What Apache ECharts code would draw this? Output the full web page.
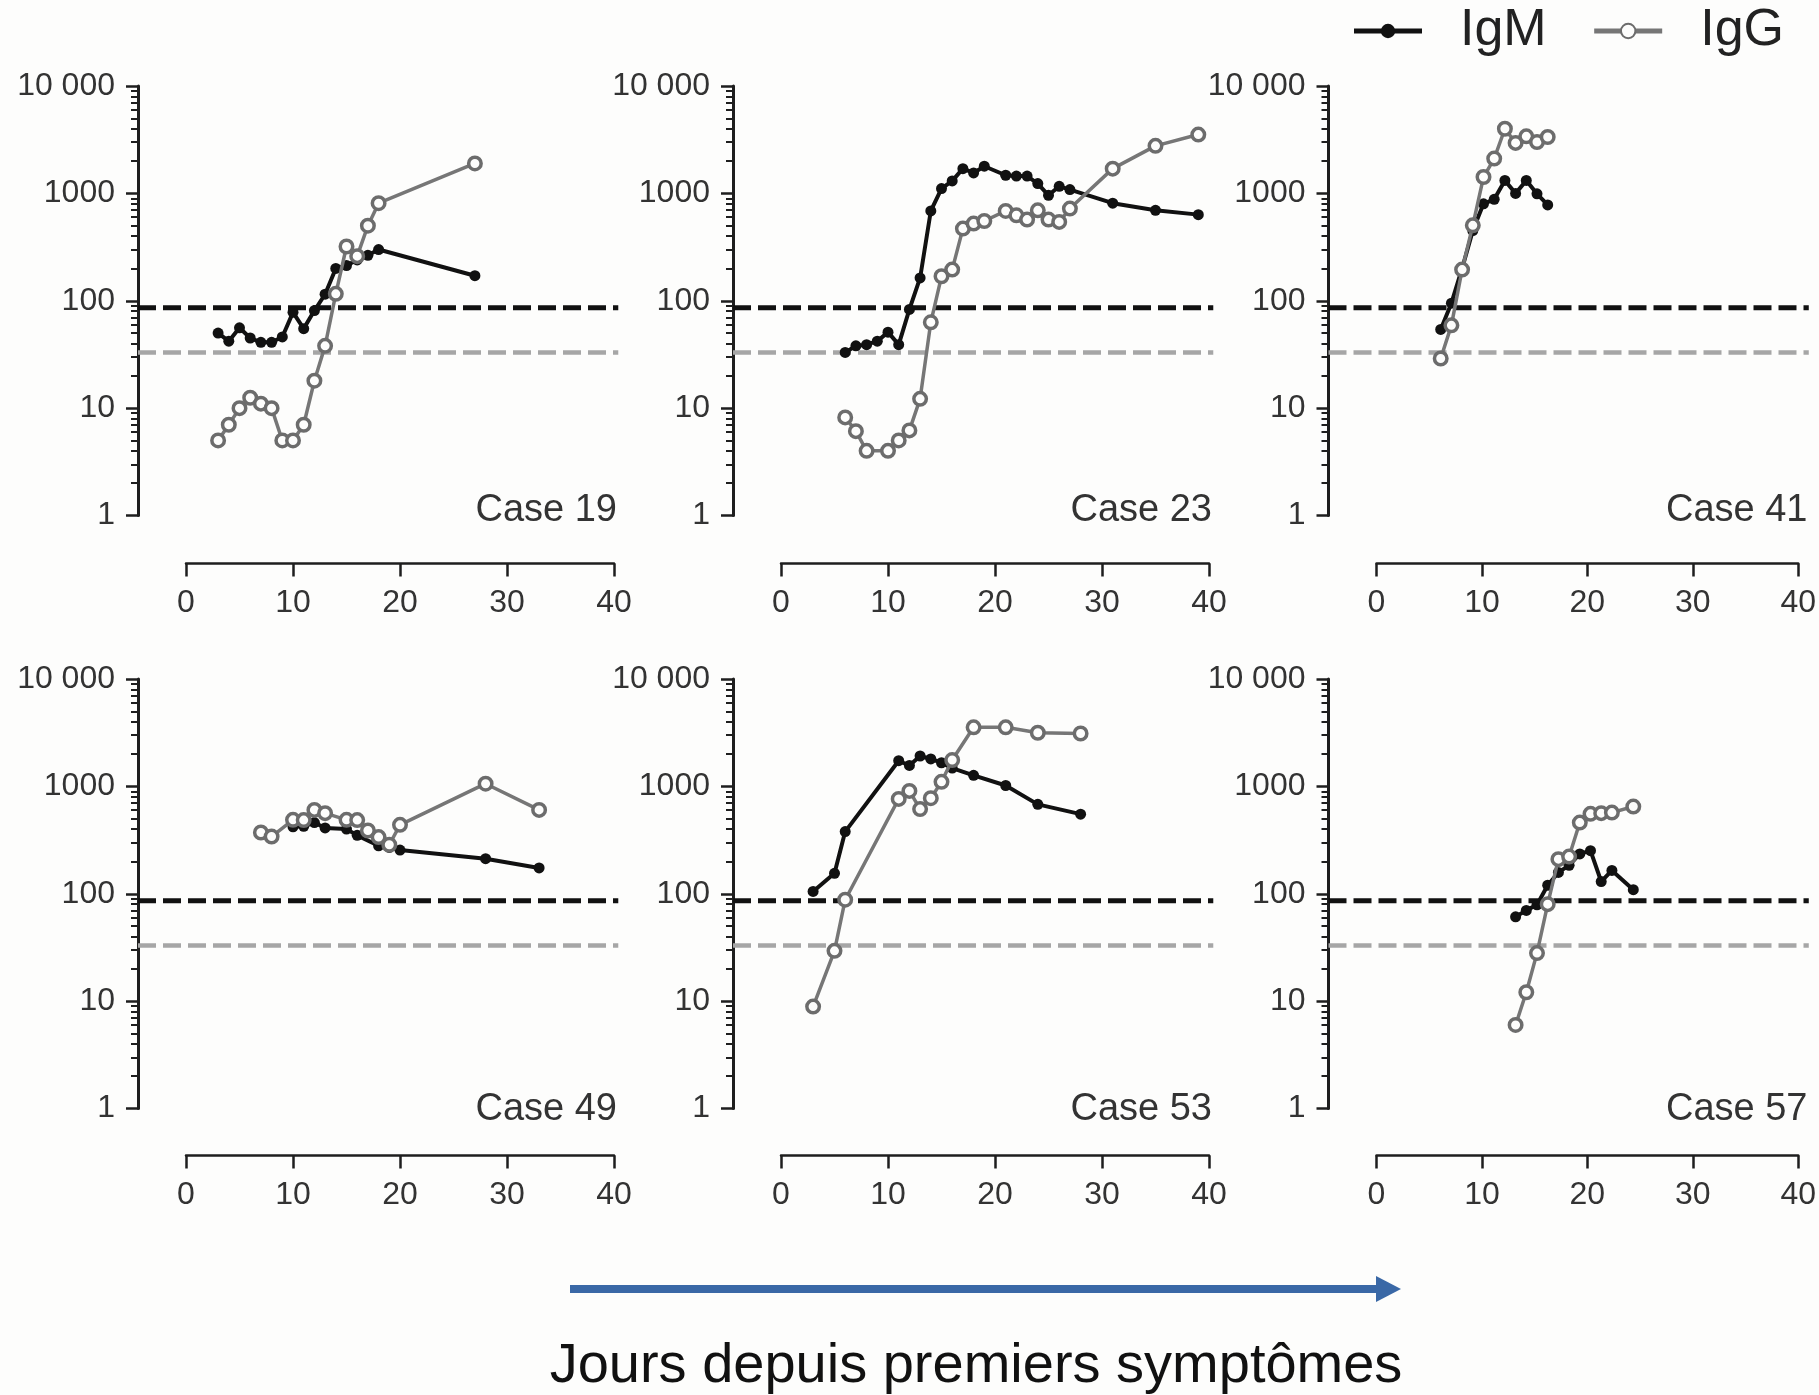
<!DOCTYPE html>
<html><head><meta charset="utf-8">
<script src="https://cdn.jsdelivr.net/npm/echarts@6/dist/echarts.min.js"></script>
<style>html,body{margin:0;padding:0;background:#fdfdfc}#c{width:1819px;height:1395px}</style>
</head><body><div id="c"></div>
<script>
// ---------------- DATA ----------------
const caseNames = ['Case 19', 'Case 23', 'Case 41', 'Case 49', 'Case 53', 'Case 57'];
const seriesNames = ['IgM', 'IgG'];
const xTicks = [0, 10, 20, 30, 40];
const yMajor = [1, 10, 100, 1000, 10000];
const yMajorLabels = ['1', '10', '100', '1000', '10 000'];
const yMinor = [2, 3, 4, 5, 6, 7, 8, 9, 20, 30, 40, 50, 60, 70, 80, 90,
  200, 300, 400, 500, 600, 700, 800, 900, 2000, 3000, 4000, 5000, 6000, 7000, 8000, 9000];
const igmCutoff = 86;
const iggCutoff = 33;
const cutoffEnd = 40.4;

const c19IgMDays = [3, 4, 5, 6, 7, 8, 9, 10, 11, 12, 13, 14, 15, 16, 17, 18, 27];
const c19IgM = [50, 42, 56, 45, 41, 41, 46, 78, 55, 81, 115, 200, 213, 240, 265, 300, 171];
const c19IgGDays = [3, 4, 5, 6, 7, 8, 9, 10, 11, 12, 13, 14, 15, 16, 17, 18, 27];
const c19IgG = [5, 7, 10, 12.5, 11, 10, 5, 5, 7, 18, 38, 116, 320, 260, 500, 810, 1900];

const c23IgMDays = [6, 7, 8, 9, 10, 11, 12, 13, 14, 15, 16, 17, 18, 19, 21, 22, 23, 24, 25, 26, 27, 31, 35, 39];
const c23IgM = [33, 38, 39, 42, 51, 39, 83, 163, 686, 1108, 1306, 1700, 1550, 1790, 1475, 1450, 1450, 1234, 960, 1163, 1085, 810, 696, 634];
const c23IgGDays = [6, 7, 8, 10, 11, 12, 13, 14, 15, 16, 17, 18, 19, 21, 22, 23, 24, 25, 26, 27, 31, 35, 39];
const c23IgG = [8.2, 6.1, 4.0, 4.0, 5.0, 6.2, 12.2, 63, 169, 195, 470, 523, 553, 686, 625, 570, 695, 570, 542, 722, 1700, 2770, 3530];

const c41IgMDays = [6, 7, 8, 9, 10, 11, 12, 13, 14, 15, 16];
const c41IgM = [54, 95, 200, 450, 800, 880, 1320, 1000, 1320, 990, 780];
const c41IgGDays = [6, 7, 8, 9, 10, 11, 12, 13, 14, 15, 16];
const c41IgG = [29, 59, 195, 504, 1420, 2110, 4000, 2950, 3400, 3010, 3350];

const c49IgMDays = [10, 11, 12, 13, 15, 16, 18, 19, 20, 28, 33];
const c49IgM = [420, 425, 460, 410, 400, 350, 280, 270, 255, 212, 174];
const c49IgGDays = [7, 8, 10, 11, 12, 13, 15, 16, 17, 18, 19, 20, 28, 33];
const c49IgG = [372, 341, 488, 485, 604, 563, 488, 485, 388, 337, 286, 438, 1059, 604];

const c53IgMDays = [3, 5, 6, 11, 12, 13, 14, 15, 16, 18, 21, 24, 28];
const c53IgM = [105, 155, 379, 1733, 1566, 1918, 1800, 1660, 1480, 1268, 1019, 680, 551];
const c53IgGDays = [3, 5, 6, 11, 12, 13, 14, 15, 16, 18, 21, 24, 28];
const c53IgG = [8.9, 29.4, 88, 764, 907, 614, 776, 1102, 1759, 3548, 3548, 3156, 3106];

const c57IgMDays = [13, 14, 15, 16, 17, 18, 19, 20, 21, 22, 24];
const c57IgM = [61, 70, 79, 120, 158, 184, 235, 252, 130, 165, 109];
const c57IgGDays = [13, 14, 15, 16, 17, 18, 19, 20, 21, 22, 24];
const c57IgG = [6, 12.1, 28, 80, 210, 222, 460, 555, 563, 570, 649];

const xAxisTitle = 'Jours depuis premiers symptômes';

// ---------------- BUILD ----------------
const panels = [
  [c19IgMDays, c19IgM, c19IgGDays, c19IgG],
  [c23IgMDays, c23IgM, c23IgGDays, c23IgG],
  [c41IgMDays, c41IgM, c41IgGDays, c41IgG],
  [c49IgMDays, c49IgM, c49IgGDays, c49IgG],
  [c53IgMDays, c53IgM, c53IgGDays, c53IgG],
  [c57IgMDays, c57IgM, c57IgGDays, c57IgG]
];
const zip = (xs, ys) => xs.map((x, k) => [x, ys[k]]);

const FONT = '"Liberation Sans", Arial, Helvetica, sans-serif';
const colLeft = [186, 781, 1376.5];   // pixel x of day 0
const rowTop = [86, 679];
const gridW = 428, gridH = 429.5;      // day 0..40 width, decade 1..10000 height
const yAxisGap = 48;                   // y axis sits this far left of day 0
const xAxisGap = [48, 47];             // x axis sits this far below value 1
const pxPerDay = gridW / (xTicks[xTicks.length - 1] - xTicks[0]);
const dataMinX = xTicks[0] - yAxisGap / pxPerDay;
const dataMaxX = cutoffEnd;
const labelY = [511, 1110];
const BLACK = '#111111', GRAY = '#767676', AXIS = '#1e1e1e', TXT = '#333333', BG = '#fdfdfc';

const grids = [], xAxes = [], yAxes = [], series = [], graphics = [];

panels.forEach((p, i) => {
  const c = i % 3, r = Math.floor(i / 3);
  // grid A: data area from the y axis line to the end of cutoff lines
  const gA = grids.length;
  grids.push({ left: colLeft[c] - yAxisGap, top: rowTop[r], width: (dataMaxX - dataMinX) * pxPerDay, height: gridH });
  // grid B: visible x axis from day 0 to day 40
  const gB = grids.length;
  grids.push({ left: colLeft[c], top: rowTop[r], width: gridW, height: gridH });

  const xData = xAxes.length;
  xAxes.push({ gridIndex: gA, type: 'value', min: dataMinX, max: dataMaxX, show: false });
  xAxes.push({
    gridIndex: gB, type: 'value', min: xTicks[0], max: xTicks[xTicks.length - 1], interval: 10,
    position: 'bottom', offset: xAxisGap[r],
    axisLine: { show: true, onZero: false, lineStyle: { color: AXIS, width: 2.5 } },
    axisTick: { show: true, inside: false, length: 13, lineStyle: { color: AXIS, width: 2.5 } },
    axisLabel: { margin: 24, color: TXT, fontSize: 32, fontFamily: FONT },
    splitLine: { show: false }
  });

  const yData = yAxes.length;
  yAxes.push({
    gridIndex: gA, type: 'log', logBase: 10, min: yMajor[0], max: yMajor[yMajor.length - 1],
    position: 'left', offset: 0,
    axisLine: { show: true, onZero: false, lineStyle: { color: AXIS, width: 3 } },
    axisTick: { show: true, inside: false, length: 12, customValues: yMajor, lineStyle: { color: AXIS, width: 2.5 } },
    axisLabel: {
      customValues: yMajor, margin: 23, color: TXT, fontSize: 32, fontFamily: FONT,
      formatter: v => { const k = yMajor.findIndex(t => Math.abs(t - v) < 1e-6 * t); return k >= 0 ? yMajorLabels[k] : ''; }
    },
    splitLine: { show: false }
  });
  yAxes.push({
    gridIndex: gA, type: 'log', logBase: 10, min: yMajor[0], max: yMajor[yMajor.length - 1],
    position: 'left', offset: 0,
    axisLine: { show: false, onZero: false },
    axisTick: { show: true, inside: false, length: 7, customValues: yMinor, lineStyle: { color: AXIS, width: 2 } },
    axisLabel: { show: false },
    splitLine: { show: false }
  });
  yAxes.push({ gridIndex: gB, type: 'log', min: yMajor[0], max: yMajor[yMajor.length - 1], show: false });

  const common = { xAxisIndex: xData, yAxisIndex: yData, animation: false };
  series.push(Object.assign({
    type: 'line', data: [[dataMinX, igmCutoff], [cutoffEnd, igmCutoff]],
    symbol: 'none', silent: true, z: 1,
    lineStyle: { color: BLACK, width: 5, type: [18, 7] }
  }, common));
  series.push(Object.assign({
    type: 'line', data: [[dataMinX, iggCutoff], [cutoffEnd, iggCutoff]],
    symbol: 'none', silent: true, z: 1,
    lineStyle: { color: '#a6a6a6', width: 4.5, type: [18, 7] }
  }, common));
  series.push(Object.assign({
    type: 'line', name: seriesNames[0], data: zip(p[0], p[1]),
    symbol: 'circle', symbolSize: 11, z: 3, clip: false,
    itemStyle: { color: BLACK },
    lineStyle: { color: BLACK, width: 4 }
  }, common));
  series.push(Object.assign({
    type: 'line', name: seriesNames[1], data: zip(p[2], p[3]),
    symbol: 'circle', symbolSize: 12.5, z: 4, clip: false,
    itemStyle: { color: BG, borderColor: '#6c6c6c', borderWidth: 3.5 },
    lineStyle: { color: GRAY, width: 3.5 }
  }, common));

  graphics.push({
    type: 'text', x: colLeft[c] + gridW + 3, y: labelY[r],
    style: { text: caseNames[i], fill: TXT, font: '38px ' + FONT, align: 'right', verticalAlign: 'middle' }
  });
});

// bottom arrow and axis caption
graphics.push({ type: 'rect', shape: { x: 570, y: 1285, width: 810, height: 8 }, style: { fill: '#3a68a6' } });
graphics.push({ type: 'polygon', shape: { points: [[1376, 1276], [1401, 1289], [1376, 1302]] }, style: { fill: '#3a68a6' } });
graphics.push({
  type: 'text', x: 976, y: 1367,
  style: { text: xAxisTitle, fill: '#111', font: '56px ' + FONT, align: 'center', verticalAlign: 'middle' }
});

const chart = echarts.init(document.getElementById('c'), null, { renderer: 'canvas' });
chart.setOption({
  backgroundColor: BG,
  animation: false,
  legend: {
    data: seriesNames, right: 30, top: 0, itemWidth: 68, itemHeight: 18, itemGap: 45,
    lineStyle: { width: 5 },
    textStyle: { fontSize: 52, color: '#222', fontFamily: FONT, padding: [0, 0, 0, 33] }
  },
  grid: grids, xAxis: xAxes, yAxis: yAxes, series: series, graphic: graphics
});
</script></body></html>
